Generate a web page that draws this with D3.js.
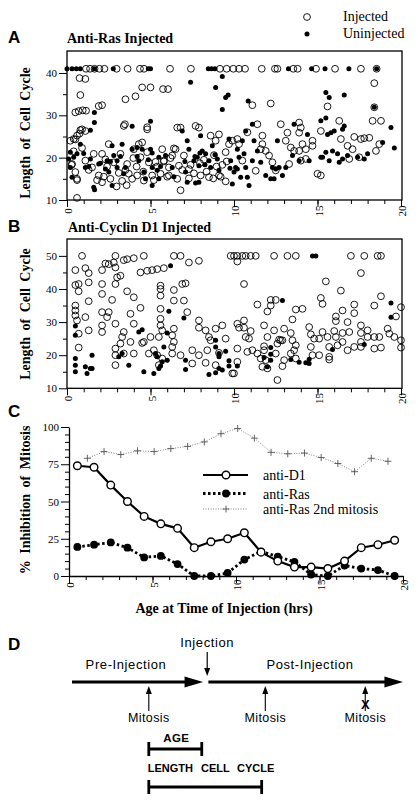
<!DOCTYPE html>
<html><head><meta charset="utf-8">
<script src="https://cdn.jsdelivr.net/npm/d3@7"></script>
<style>body{margin:0;background:#fff}svg{display:block}</style>
</head><body>
<svg id="c" width="418" height="805"></svg>
<script>
// ---------- DATA ----------
const hourTicks=[0,5,10,15,20];
const hourMinor=[0,1,2,3,4,5,6,7,8,9,10,11,12,13,14,15,16,17,18,19,20];
const cycleTicksA=[10,20,30,40], cycleMinorA=[15,25,35];
const cycleTicksB=[10,20,30,40,50], cycleMinorB=[15,25,35,45];
const inhibTicks=[0,25,50,75,100];
const inhibMinor=[5,10,15,20,30,35,40,45,55,60,65,70,80,85,90,95];

// Panel A: anti-Ras injected [age hrs, cycle length]
const rasInjected=[
[1.14,41],[1.38,41],[1.65,41],[1.94,41],[2.24,41],[2.97,41],[3.63,41],[4.37,41],[4.61,41],[6.17,41],[7.42,41],[9.16,41],[9.56,41],[9.96,41],[10.3,41],[10.66,41],[11.66,41],[12.45,41],[12.6,41],[13.55,41],[13.81,41],[14.91,41],[16.05,41],[17.6,41],[18.54,41],
[0.75,38.8],[1.1,38.6],[0.8,34.8],[2.1,32.4],[1.9,32.2],[3.5,33.8],[4.1,34.5],[4.5,36.6],[5.0,36.6],[5.75,36.2],[6.05,36.2],[11.1,32.4],[12.2,32.8],[18.4,37.6],[15.6,32.1],[18.4,31.9],[0.5,30.7],[0.7,31.0],[0.94,31.2],[1.14,31.1],[3.47,27.9],[4.8,27.2],[0.8,26.5],[0.75,25.7],[0.5,24.3],
[0.2,24],[0.4,24.4],[0.6,25.2],[0.9,26.7],[1.1,26.3],[0.3,18.5],[0.5,16.6],[0.6,15],[1.1,19.3],[1.6,20.9],[2.1,20.9],[1.9,15.8],[2.1,14.2],[2.5,23.2],[2.8,18.9],[3.2,20.9],[3.4,27.5],[3.6,18.5],[3.7,16.2],[4.0,22],[4.3,23.2],[4.5,23.6],[4.8,21.3],[4.8,26.7],[4.9,18.9],[4.2,15.8],[4.6,14.6],[5.1,15.8],[5.7,22],[5.8,19.3],[6.1,17.7],[6.3,20.5],[6.1,15.8],[6.6,27.1],[6.8,27.1],[6.5,22],[6.7,18.1],[6.8,12.3],[7.3,17.3],[7.7,27.5],[7.9,27.1],[8.0,15.8],[8.6,25.2],[9.1,25.5],[8.9,24],[9.1,15.8],[8.5,15.4],[9.5,21.3],[9.7,23.2],[0.6,10.5],
[0.28,18.3],[0.6,14.7],[1.3,17.1],[1.8,14.7],[2.2,15.5],[2.4,17.9],[2.97,13.2],[3.57,13.5],[3.5,17.1],[4.17,17.9],[3.97,19.9],[4.57,16.7],[5.2,14.7],[5.4,17.9],[5.8,19.1],[6.2,19.9],[6.0,15.5],[6.4,22.2],[6.9,17.1],[7.3,15.1],[7.4,18.3],[7.96,18.7],[8.36,16.7],[8.76,15.1],[8.96,17.9],[9.2,15.5],[9.56,19.1],
[0.4,21.5],[0.9,22.3],[1.5,17.7],[2.3,19.6],[2.6,15],[3.1,16.4],[3.3,14.5],[3.9,15],[4.4,20.1],[5.3,19],[5.6,16.2],[6.6,15],[7.0,20.5],[7.6,16.3],[8.2,19.5],[8.8,20.6],[9.3,18.3],[9.5,14.4],[10.5,19.3],[11.3,16.9],
[9.9,24],[10.2,24.4],[10.3,23.2],[10.8,26],[11.4,27.9],[11.7,25.2],[11.7,23.2],[11.9,21.6],[12.1,20.5],[11.6,22],[12.8,27.9],[13.2,25.9],[13.1,24],[13.4,22.4],[13.6,21.6],[13.9,28.3],[14.0,27.1],[13.9,25.9],[14.1,23.2],[14.3,22],[13.9,21.6],[14.0,19.3],[14.7,24],[14.7,22.8],[15.2,26.3],[15.2,15.8],[15.0,16.2],[16.3,28.7],[16.4,24.4],[16.8,22.8],[17.1,22],[17.2,24.9],[17.6,24.4],[17.8,24.6],[18.1,24.7],[18.3,28.7],[18.8,28.7],[18.5,21.6],[18.7,23.2],[16.9,19.7],[17.5,20.1],[12.3,18.9],[12.5,17.0],[13.3,18.5],[14.3,19.7]
];
const rasUninjected=[
[0,41],[0.3,41],[0.56,41],[0.8,41],[1.64,41],[2.77,41],[4.87,41],[5.0,41],[8.46,41],[8.66,41],[8.86,41],[13.26,41],[14.65,41],[15.45,41],[16.88,41],[18.54,41],
[9.3,39.2],[7.4,37.8],[8.9,36.6],[9.5,34.2],[9.65,34.8],[10.85,33.4],[15.5,35.4],[15.7,34.2],[16.6,34.8],[18.4,31.9],[1.64,30.7],[1.64,28.3],[3.9,27.4],[5.0,28.6],[1.4,26.5],
[0.2,21.3],[0.1,19.7],[0.4,20.1],[0.6,20.9],[0.8,23.2],[0.2,17.7],[0.3,15.4],[1.1,17.7],[1.4,19.7],[1.6,13.0],[1.65,12.4],[1.9,18.5],[2.3,17.3],[2.4,19.3],[2.5,16.6],[2.7,22.8],[2.8,20.5],[2.7,13.4],[3.0,19.3],[3.0,17.7],[3.3,23.2],[3.5,17.7],[3.4,16.2],[3.9,22],[4.2,22.4],[4.5,22],[4.3,19.3],[4.6,16.6],[4.7,15],[5.0,22.0],[5.1,17.7],[5.5,20.1],[5.4,17],[5.1,13.4],[5.5,15],[5.9,20.5],[6.3,17.7],[6.9,26.3],[7.2,24],[7.1,16.6],[7.2,14.2],[7.3,22],[7.6,19.3],[7.8,20.1],[7.9,18.1],[8.0,25.2],[8.1,21.6],[8.3,20.9],[7.9,14.2],[7.7,14],[8.5,19.3],[8.6,17.7],[8.7,22.8],[9.0,19.7],[9.1,17],[9.3,31.4],[9.7,24.4],[9.8,19.3],[10,16.6],
[1.0,21],[1.3,17.9],[2.0,18.7],[2.6,19.1],[3.2,20.3],[4.2,20.3],[4.87,19.5],[5.1,21.1],[5.6,17.9],[6.4,15.5],[7.06,19.1],[7.66,20.3],[7.96,21.1],[8.26,18.3],[8.86,20.7],[9.76,17.5],
[11.1,27.9],[10.7,26.3],[10.5,24],[10.2,22],[10.3,20.1],[10.6,20.9],[10.1,17.7],[10.2,17.3],[10.7,17.7],[10.8,15.4],[10.4,15.4],[10.9,13.4],[9.9,13.8],[11.1,19.3],[11.4,21.6],[11.2,24],[11.6,18.9],[11.9,15.8],[12.2,15],[12.4,15],[12.3,17.7],[12.5,17.3],[12.7,17.7],[12.6,24],[12.9,15.8],[13.1,17.7],[13.5,20.5],[13.6,27.9],[13.9,19.3],[14.4,25.5],[14.5,19.3],[15.2,28.7],[15.5,29.4],[15.6,25.5],[15.8,25.9],[16.0,26.3],[15.9,21.6],[15.5,21.3],[15.3,20.1],[16.2,20.9],[16.3,18.9],[16.6,27.5],[16.5,26.7],[16.8,20.5],[16.5,19.7],[17.4,20.1],[17.8,19.7],[18.0,20.9],[18.9,23.6],[19.4,27.1],[19.6,22.3],[15.2,20.1],[15.7,19.3]
];

// Panel B: anti-cyclin D1 injected
const d1Injected=[
[0.9,50],[0.5,45.7],[1.1,46.3],[1.3,44.8],[0.5,41.2],[0.7,41.5],[0.7,39.3],[1.3,42],[1.3,36.3],[0.5,35],[0.5,33.5],[0.5,32],[0.6,30.5],[1.1,31.5],[0.7,26.5],[1.3,27.5],[0.7,22.3],[2.1,45.7],[2.3,47.7],[2.5,47.5],[2.9,50],[2.8,48],[2.9,46.5],[2.1,41.5],[2.1,38.5],[2.7,36.7],[2.1,33],[2.5,33],[2.4,31.5],[2.9,29.5],[2.1,29],[2.1,27],[3.0,43.5],[3.2,44],[2.9,41.5],[3.4,48.7],[3.6,49],[4.0,49.3],[4.6,50],[3.6,39.3],[4.0,37.5],[3.8,32.5],[4.4,34.3],[4.0,29.5],[3.4,27],[3.3,25.5],[3.2,23.5],[2.9,22],[2.9,20],[2.9,17],[3.4,20.5],[3.8,24],[4.0,20.5],[4.4,45],[4.8,45.5],[5.1,45.7],[5.4,46],[5.8,46.3],[5.6,41],[5.6,40],[5.6,38],[5.6,34],[6.4,50],[6.8,50],[7.3,48],[7.9,48.5],[6.4,39.7],[6.9,41.5],[7.1,41.7],[6.4,36.5],[7.0,36.5],[5.6,31],[5.6,29],[5.7,27.5],[5.5,25.5],[6.4,28],[6.3,26],[6.4,24],[6.3,22.5],[6.3,20.5],[4.6,24],[4.5,23.7],[5.0,25.5],[4.9,20.5],[5.2,21.5],[5.4,20],[5.7,19],[5.5,17],[6.8,20],[7.2,33],[7.9,30.5],[7.9,28.3],[8.3,27.5],[8.5,25.5],[8.6,24.5],[8.9,28],[9.3,29],[9.5,25],[7.5,21.5],[7.9,20],[8.4,21.5],[7.5,17.5],[8.3,17.7],[9.1,20.7],[8.9,17],[9.9,14.5],[9.8,50],
[10.0,50],[10.2,50],[10.5,50],[10.7,50],[11.0,50],[11.3,50],[12.4,50],[13.2,50],[13.7,50],[17.0,50],[17.8,50],[18.6,50],[18.8,50],[10.2,48.3],[17.6,44.8],[15.5,42.3],[10.6,41.5],[16.4,39.5],[15.2,37.3],[15.3,35.5],[18.8,37.8],[11.4,35.3],[12.2,36.7],[12.5,36.7],[12.2,35],[12.0,33.2],[13.7,33.8],[14.1,34],[13.5,30.8],[16.5,33.5],[16.1,31.7],[16.1,30.3],[17.2,35.3],[17.2,32.7],[18.4,35],[16.8,30],[10.2,29.5],[10.6,30.5],[10.6,28.3],[10.3,28.3],[11.0,27.3],[10.7,25.5],[10.9,25],[11.8,29],[12.4,27.5],[13.0,28],[13.4,26.7],[12.0,25.5],[12.9,24.5],[12.7,24.7],[14.5,28.5],[14.6,26.3],[15.3,27],[14.8,25],[15.1,25],[15.6,25.5],[16.0,27.3],[16.1,25.5],[16.5,26.7],[16.9,27],[17.6,29],[17.6,26.7],[18.0,27.5],[18.0,25.5],[18.4,25.5],[18.7,25.5],[19.2,28],[19.6,25.5],[19.3,26.5],[20.0,24.5],[20.0,34.5],[19.7,31.7],[10.2,22],[10.2,18],[10.0,14.5],[10.8,21],[11.1,21.5],[11.4,20.5],[11.8,22.7],[11.8,21.5],[11.6,19],[11.9,18.5],[11.7,16.5],[12.0,16],[12.6,23.5],[12.8,24.5],[12.5,20.5],[13.0,18.5],[12.9,16.7],[13.5,24.5],[13.7,23],[13.6,21.5],[13.4,20.5],[13.7,19],[12.6,12.5],[14.6,22.5],[14.7,20],[15.1,20],[15.7,22.5],[15.7,19.5],[15.7,18.7],[16.2,23],[16.5,24],[16.8,21.5],[17.2,22.5],[17.6,24],[17.6,22.5],[18.4,22],[18.8,22.3],[20.0,22.3]
];
const d1Uninjected=[
[0.5,28.8],[0.5,26],[0.5,19],[0.5,17],[0.5,15],[1.1,16.5],[1.2,14.5],[1.4,16],[1.5,16],[1.5,20],[3.1,19.5],[3.3,20.5],[3.7,17],[4.3,27],[4.5,27.7],[4.6,15],[5.2,14.5],[5.3,20.5],[5.4,19.5],[5.6,16.7],[5.5,16],[5.7,18],[6.0,26.7],[5.8,22.5],[6.0,18.5],[6.2,47],[6.1,33.3],[7.0,31.2],[7.1,18.5],[7.1,15.7],[8.5,14.2],[8.9,24.5],[8.9,22.5],[9.1,20.5],[9.1,19.5],[9.5,21.2],[9.1,16],[9.3,15.5],[9.7,18.3],[9.7,16.7],[8.9,14.7],
[10.2,16.7],[11.8,19.3],[12.2,22.3],[12.2,20.3],[12.2,18.5],[12.0,16.5],[12.9,36.5],[13.4,18.7],[13.9,17.9],[14.3,17.7],[14.5,17.5],[14.5,18.8],[15.9,21.7],[17.8,23.2],[19.4,35.8],[19.4,31.5],[14.7,50],[14.9,50]
];

// Panel C: % inhibition of mitosis
const ageBins=[0.5,1.5,2.5,3.5,4.5,5.5,6.5,7.5,8.5,9.5,10.5,11.5,12.5,13.5,14.5,15.5,16.5,17.5,18.5,19.5];
const antiD1=[74,73,61,50,40,35,32,19,23,25,29,16,10,6,6,5,10,19,21,24];
const antiRas=[19.5,21,22.5,19,12.5,13.5,8,0,0,2,11,16.5,13,9.5,1,0,7,5,4,0];
const ras2Hours=[1.1,2.1,3.1,4.1,5.1,6.1,7.1,8.1,9.1,10.1,11.1,12.1,13.1,14.1,15.1,16.1,17.1,18.1,19.1];
const antiRas2nd=[79,83.5,81.5,84,83.5,85.5,87,90,95.5,99,92.5,83,82,82.5,79.5,75.5,70,79,77];
const seriesC=["anti-D1","anti-Ras","anti-Ras 2nd mitosis"];

// Panel D schematic (timeline units 0-100)
const injectionAt=41;
const mitosisAt=[23.2,58.4,88.6];
const ageSpan=[23.2,39.2];
const cycleSpan=[23.2,57.3];

// ---------- DRAW ----------
const svg=d3.select('#c');
const SERIF='"Liberation Serif","Times New Roman",serif';
const SANS='"Liberation Sans",Arial,sans-serif';

function panelLetter(t,y){
  svg.append('text').attr('x',8).attr('y',y).attr('font-family',SANS).attr('font-weight','bold').attr('font-size',17).text(t);
}
function yTitle(t,cx,cy){
  svg.append('text').attr('transform',`translate(${cx},${cy}) rotate(-90)`).attr('text-anchor','middle')
    .attr('font-family',SERIF).attr('font-weight','bold').attr('font-size',14).attr('word-spacing',3).text(t);
}
function xAxis(x,y0,labelY,keepDomain){
  const gm=svg.append('g').attr('transform',`translate(0,${y0})`)
    .call(d3.axisBottom(x).tickValues(hourMinor).tickSize(4).tickSizeOuter(0).tickFormat(''));
  if(!keepDomain) gm.select('.domain').remove(); else gm.select('.domain').attr('stroke-width',1.3);
  const g=svg.append('g').attr('transform',`translate(0,${y0})`)
    .call(d3.axisBottom(x).tickValues(hourTicks).tickSize(7).tickSizeOuter(0));
  g.select('.domain').remove();
  g.selectAll('text').attr('x',0).attr('y',0).attr('dy','0.35em')
    .attr('transform',`translate(1,${labelY-y0}) rotate(-90)`).attr('text-anchor','middle')
    .attr('font-family',SERIF).attr('font-size',11).attr('fill','#000');
}
function yAxis(y,x0,majors,minors,keepDomain){
  const gm=svg.append('g').attr('transform',`translate(${x0},0)`)
    .call(d3.axisLeft(y).tickValues(minors).tickSize(4).tickSizeOuter(0).tickFormat(''));
  gm.select('.domain').remove();
  const g=svg.append('g').attr('transform',`translate(${x0},0)`)
    .call(d3.axisLeft(y).tickValues(majors).tickSize(8).tickPadding(2).tickSizeOuter(0));
  if(!keepDomain) g.select('.domain').remove(); else g.select('.domain').attr('stroke-width',1.3);
  g.selectAll('text').attr('font-family',SERIF).attr('font-size',11).attr('fill','#000');
}
function scatter(x,y,open,filled){
  svg.append('g').selectAll('circle').data(open).join('circle')
    .attr('cx',d=>x(d[0])).attr('cy',d=>y(d[1])).attr('r',3.4)
    .attr('fill','none').attr('stroke','#000').attr('stroke-width',0.9);
  svg.append('g').selectAll('circle').data(filled).join('circle')
    .attr('cx',d=>x(d[0])).attr('cy',d=>y(d[1])).attr('r',2.5).attr('fill','#000');
}

// ----- Panel A -----
const xA=d3.scaleLinear([0,20],[67,401]);
const yA=d3.scaleLinear([10,45.2],[200,51]);
panelLetter('A',43);
svg.append('text').attr('x',67).attr('y',43).attr('font-family',SERIF).attr('font-weight','bold').attr('font-size',14).text('Anti-Ras Injected');
const legA=[{t:'Injected',open:true,y:21},{t:'Uninjected',open:false,y:38}];
legA.forEach(l=>{
  svg.append('circle').attr('cx',307).attr('cy',l.y-4).attr('r',l.open?3.4:2.5)
    .attr('fill',l.open?'none':'#000').attr('stroke',l.open?'#000':'none').attr('stroke-width',0.9);
  svg.append('text').attr('x',343).attr('y',l.y).attr('font-family',SERIF).attr('font-size',14).text(l.t);
});
svg.append('rect').attr('x',xA(0)).attr('y',yA(45.2)).attr('width',xA(20)-xA(0)+1).attr('height',yA(10)-yA(45.2))
  .attr('fill','none').attr('stroke','#000').attr('stroke-width',1.3);
xAxis(xA,yA(10),211,false);
yAxis(yA,xA(0),cycleTicksA,cycleMinorA,false);
yTitle('Length of Cell Cycle',30,133);
scatter(xA,yA,rasInjected,rasUninjected);

// ----- Panel B -----
const xB=d3.scaleLinear([0,20],[67,401]);
const yB=d3.scaleLinear([10,55.1],[388.3,239]);
panelLetter('B',232);
svg.append('text').attr('x',68).attr('y',232).attr('font-family',SERIF).attr('font-weight','bold').attr('font-size',14).text('Anti-Cyclin D1 Injected');
svg.append('rect').attr('x',xB(0)).attr('y',yB(55.1)).attr('width',xB(20)-xB(0)+1).attr('height',yB(10)-yB(55.1))
  .attr('fill','none').attr('stroke','#000').attr('stroke-width',1.3);
xAxis(xB,yB(10),398.5,false);
yAxis(yB,xB(0),cycleTicksB,cycleMinorB,false);
yTitle('Length of Cell Cycle',30,314);
scatter(xB,yB,d1Injected,d1Uninjected);

// ----- Panel C -----
const xC=d3.scaleLinear([0,20],[69,403]);
const yC=d3.scaleLinear([0,100],[576,427]);
panelLetter('C',417);
xAxis(xC,yC(0),585,true);
yAxis(yC,xC(0),inhibTicks,inhibMinor,true);
yTitle('% Inhibition of Mitosis',30,500);
svg.append('text').attr('x',224).attr('y',613).attr('text-anchor','middle').attr('font-family',SERIF)
  .attr('font-weight','bold').attr('font-size',14).text('Age at Time of Injection (hrs)');

const line=d3.line().x(d=>xC(d[0])).y(d=>yC(d[1]));
const d2=ras2Hours.map((h,i)=>[h,antiRas2nd[i]]);
const dD1=ageBins.map((h,i)=>[h,antiD1[i]]);
const dRas=ageBins.map((h,i)=>[h,antiRas[i]]);
const plus=(cx,cy,s)=>`M${cx-s},${cy}h${2*s}M${cx},${cy-s}v${2*s}`;
svg.append('path').datum(d2).attr('d',line).attr('fill','none').attr('stroke','#666').attr('stroke-width',0.8).attr('stroke-dasharray','1,1.5');
svg.append('g').selectAll('path').data(d2).join('path').attr('d',d=>plus(xC(d[0]),yC(d[1]),3.5)).attr('stroke','#555').attr('stroke-width',0.9);
svg.append('path').datum(dRas).attr('d',line).attr('fill','none').attr('stroke','#000').attr('stroke-width',2.8).attr('stroke-dasharray','2.5,2.5');
svg.append('g').selectAll('circle').data(dRas).join('circle').attr('cx',d=>xC(d[0])).attr('cy',d=>yC(d[1])).attr('r',3.9).attr('fill','#000');
svg.append('path').datum(dD1).attr('d',line).attr('fill','none').attr('stroke','#000').attr('stroke-width',2.2);
svg.append('g').selectAll('circle').data(dD1).join('circle').attr('cx',d=>xC(d[0])).attr('cy',d=>yC(d[1])).attr('r',3.8).attr('fill','#fff').attr('stroke','#000').attr('stroke-width',1.4);
const legY=[475,493.5,509];
seriesC.forEach((s,i)=>{
  const y=legY[i];
  const l=svg.append('line').attr('x1',203).attr('x2',248).attr('y1',y).attr('y2',y);
  if(i===0){l.attr('stroke','#000').attr('stroke-width',2.2);
    svg.append('circle').attr('cx',226).attr('cy',y).attr('r',3.8).attr('fill','#fff').attr('stroke','#000').attr('stroke-width',1.4);}
  else if(i===1){l.attr('stroke','#000').attr('stroke-width',2.8).attr('stroke-dasharray','2.5,2.5');
    svg.append('circle').attr('cx',226).attr('cy',y).attr('r',3.9).attr('fill','#000');}
  else {l.attr('stroke','#666').attr('stroke-width',0.8).attr('stroke-dasharray','1,1.5');
    svg.append('path').attr('d',plus(226,y,3.5)).attr('stroke','#555').attr('stroke-width',0.9);}
  svg.append('text').attr('x',263).attr('y',y+5).attr('font-family',SERIF).attr('font-size',14).text(s);
});

// ----- Panel D -----
panelLetter('D',650);
const tl=d3.scaleLinear([0,100],[72,403]);
const yLine=682;
const gD=svg.append('g');
const txt=(t,x,y,o={})=>gD.append('text').attr('x',x).attr('y',y).attr('text-anchor',o.anchor||'middle')
  .attr('font-family',SANS).attr('font-size',o.size||13).attr('font-weight',o.bold?'bold':'normal')
  .attr('letter-spacing',o.ls??0.6).text(t);
gD.append('line').attr('x1',tl(0)).attr('x2',tl(35)).attr('y1',yLine).attr('y2',yLine).attr('stroke','#000').attr('stroke-width',3.2);
gD.append('path').attr('d',`M${tl(34)},${yLine-5.5}L${tl(39.6)},${yLine}L${tl(34)},${yLine+5.5}Z`).attr('fill','#000');
gD.append('line').attr('x1',tl(41.2)).attr('x2',tl(95)).attr('y1',yLine).attr('y2',yLine).attr('stroke','#000').attr('stroke-width',3.2);
gD.append('path').attr('d',`M${tl(94.4)},${yLine-5.5}L${tl(100)},${yLine}L${tl(94.4)},${yLine+5.5}Z`).attr('fill','#000');
const xi=tl(injectionAt)-0.5;
txt('Injection',xi,647);
gD.append('line').attr('x1',xi).attr('x2',xi).attr('y1',652).attr('y2',669).attr('stroke','#000').attr('stroke-width',1.2);
gD.append('path').attr('d',`M${xi-3},668L${xi},676L${xi+3},668Z`).attr('fill','#000');
txt('Pre-Injection',126,669);
txt('Post-Injection',310,669);
mitosisAt.forEach((m,i)=>{
  const x=tl(m);
  gD.append('line').attr('x1',x).attr('x2',x).attr('y1',711).attr('y2',692).attr('stroke','#000').attr('stroke-width',1.1);
  gD.append('path').attr('d',`M${x-3},694L${x},686L${x+3},694Z`).attr('fill','#000');
  if(i===2) txt('X',x,709,{bold:true,size:13,ls:0});
  txt('Mitosis',x,722,{size:12.5,ls:0.4});
});
const bar=(a,b,y)=>{
  gD.append('line').attr('x1',tl(a)).attr('x2',tl(b)).attr('y1',y).attr('y2',y).attr('stroke','#000').attr('stroke-width',2.8);
  [a,b].forEach(v=>gD.append('line').attr('x1',tl(v)).attr('x2',tl(v)).attr('y1',y-7).attr('y2',y+7).attr('stroke','#000').attr('stroke-width',2.8));
};
txt('AGE',(tl(ageSpan[0])+tl(ageSpan[1]))/2+1,742,{bold:true,size:11.5,ls:0.3});
bar(ageSpan[0],ageSpan[1],749);
txt('LENGTH',tl(cycleSpan[0])-1,772,{bold:true,size:11,ls:0,anchor:'start'});
txt('CELL',201,772,{bold:true,size:11,ls:0,anchor:'start'});
txt('CYCLE',237,772,{bold:true,size:11,ls:0,anchor:'start'});
bar(cycleSpan[0],cycleSpan[1],787);
</script>
</body></html>
